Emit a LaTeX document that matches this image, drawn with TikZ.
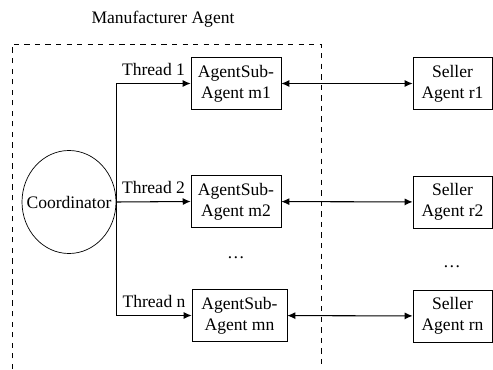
\documentclass[tikz,border=0pt]{standalone}
\usepackage{fontspec}
\setmainfont{Liberation Serif}
\usetikzlibrary{shapes.geometric,arrows.meta}

\begin{document}
\begin{tikzpicture}[>={Latex[length=4.5pt,width=4pt]},
  box node/.style={draw, align=center, minimum height=1.04cm, inner sep=1pt},
  sub node/.style={box node, minimum width=1.8cm},
  seller node/.style={box node, minimum width=1.58cm}]
  \useasboundingbox (0,0) rectangle (9.86,-7.38);

  \node (title) at (3.26,-0.38) {Manufacturer Agent};
  \draw[dashed] (0.24,-7.38) -- (0.24,-0.88) -- (6.42,-0.88) -- (6.42,-7.38);

  \node[draw, ellipse, inner xsep=-6pt, minimum width=1.88cm, minimum height=2.06cm] (c) at (1.38,-4.04) {Coordinator};
  \node[sub node] (m1) at (4.72,-1.67) {AgentSub-\\Agent m1};
  \node[sub node] (m2) at (4.72,-4.03) {AgentSub-\\Agent m2};
  \node[sub node, minimum width=1.9cm] (mn) at (4.79,-6.31) {AgentSub-\\Agent mn};
  \node (d1) at (4.72,-5.16) {\dots};
  \node[seller node] (s1) at (9.05,-1.67) {Seller\\Agent r1};
  \node[seller node] (s2) at (9.05,-4.04) {Seller\\Agent r2};
  \node[seller node] (sn) at (9.05,-6.32) {Seller\\Agent rn};
  \node (d2) at (9.04,-5.34) {\dots};

  \draw[semithick] (c.east |- m1.west) -- (c.east |- mn.west);
  \path[->, semithick, every node/.style={above, yshift=1pt}]
    (c.east |- m1.west) edge node {Thread 1} (m1.west)
    (c.east) edge node {Thread 2} (m2.west)
    (c.east |- mn.west) edge node {Thread n} (mn.west);
  \path[<->, semithick]
    (m1) edge (s1)
    (m2) edge (s2)
    (mn) edge (sn);
\end{tikzpicture}
\end{document}
